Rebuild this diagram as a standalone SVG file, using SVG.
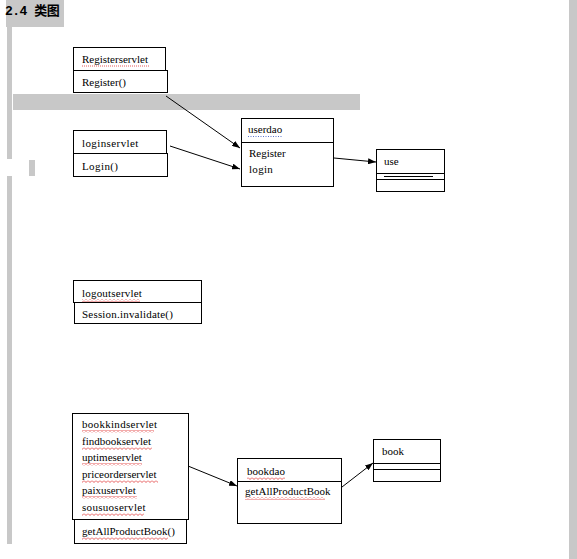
<svg xmlns="http://www.w3.org/2000/svg" width="577" height="559" viewBox="0 0 577 559">
<style>
.box{fill:#fff;stroke:#000;stroke-width:1}
.t{font-family:'Liberation Serif','Times New Roman',Times,serif;font-size:11px;fill:#000}
.h{font-family:'Liberation Mono','Noto Sans CJK SC',monospace;font-size:13px;font-weight:bold;fill:#000}
.bar{fill:#c8c8c8}
.conn{stroke:#000;stroke-width:1;fill:none;marker-end:url(#arr)}
.wave{fill:url(#wave)}
</style>
<defs>
<marker id="arr" markerWidth="8" markerHeight="6" refX="8" refY="3" orient="auto" markerUnits="userSpaceOnUse">
<path d="M0,0 L8,3 L0,6 Z" fill="#000"/>
</marker>
<pattern id="wave" width="4" height="3" patternUnits="userSpaceOnUse">
<path d="M0,0.5 L2,2.5 L4,0.5" stroke="#e03030" stroke-width="0.8" fill="none"/>
</pattern>
</defs>
<rect width="577" height="559" fill="#fff"/>
<g id="page">
<rect class="bar" x="6" y="0" width="58" height="27"/>
<text class="h" x="5" y="15" letter-spacing="-0.5">2.4 类图</text>
<rect class="bar" x="7" y="27" width="5" height="132"/>
<rect class="bar" x="7" y="176" width="5" height="368"/>
<rect class="bar" x="29" y="160" width="6" height="16"/>
<rect class="bar" x="13" y="94" width="347" height="16"/>
<rect class="bar" x="569" y="0" width="8" height="559"/>
</g>
<g id="registerservlet">
<rect class="box" x="73.5" y="47.5" width="92" height="23"/>
<rect class="box" x="73.5" y="70.5" width="94" height="22"/>
<text class="t" x="82" y="63">Registerservlet</text>
<line x1="82" y1="66" x2="150" y2="66" stroke="#e03030" stroke-width="0.8" stroke-dasharray="1,1"/>
<text class="t" x="82" y="86">Register()</text>
</g>
<g id="loginservlet">
<rect class="box" x="73.5" y="130.5" width="93" height="23"/>
<rect class="box" x="73.5" y="153.5" width="94" height="23"/>
<text class="t" x="82" y="147" letter-spacing="0.4">loginservlet</text>
<text class="t" x="82" y="170" letter-spacing="0.4">Login()</text>
</g>
<g id="userdao">
<rect class="box" x="241.5" y="118.5" width="92" height="24"/>
<rect class="box" x="241.5" y="142.5" width="92" height="44"/>
<text class="t" x="248" y="133">userdao</text>
<line x1="248" y1="136.5" x2="282" y2="136.5" stroke="#3050c0" stroke-width="0.8" stroke-dasharray="1,1.5"/>
<text class="t" x="249" y="157">Register</text>
<text class="t" x="249" y="173" letter-spacing="0.3">login</text>
</g>
<g id="use">
<rect class="box" x="376.5" y="149.5" width="68" height="42"/>
<line x1="376.5" y1="173.5" x2="444.5" y2="173.5" stroke="#000"/>
<line x1="376.5" y1="179.5" x2="444.5" y2="179.5" stroke="#000"/>
<line x1="384" y1="176.5" x2="433" y2="176.5" stroke="#000"/>
<text class="t" x="384" y="165">use</text>
</g>
<g id="logoutservlet">
<rect class="box" x="73.5" y="280.5" width="128" height="22"/>
<rect class="box" x="74.5" y="302.5" width="127" height="21"/>
<text class="t" x="82" y="297" letter-spacing="0.2">logoutservlet</text>
<rect class="wave" x="82" y="299" width="58" height="3"/>
<text class="t" x="82" y="318" letter-spacing="0.2">Session.invalidate()</text>
</g>
<g id="bookservlets">
<rect class="box" x="72.5" y="413.5" width="116" height="106"/>
<rect class="box" x="74.5" y="519.5" width="112" height="24"/>
<text class="t" x="82" y="428" letter-spacing="0.3">bookkindservlet</text>
<rect class="wave" x="82" y="430" width="72" height="3"/>
<text class="t" x="82" y="445">findbookservlet</text>
<rect class="wave" x="82" y="447" width="70" height="3"/>
<text class="t" x="82" y="461">uptimeservlet</text>
<rect class="wave" x="82" y="463" width="60" height="3"/>
<text class="t" x="82" y="478">priceorderservlet</text>
<rect class="wave" x="82" y="480" width="76" height="3"/>
<text class="t" x="82" y="494">paixuservlet</text>
<rect class="wave" x="82" y="496" width="55" height="3"/>
<text class="t" x="82" y="511" letter-spacing="0.3">sousuoservlet</text>
<rect class="wave" x="82" y="513" width="62" height="3"/>
<text class="t" x="82" y="535">getAllProductBook()</text>
<rect class="wave" x="82" y="537" width="86" height="3"/>
</g>
<g id="bookdao">
<rect class="box" x="237.5" y="458.5" width="104" height="23"/>
<rect class="box" x="237.5" y="481.5" width="104" height="42"/>
<text class="t" x="247" y="475">bookdao</text>
<rect class="wave" x="247" y="477" width="38" height="3"/>
<text class="t" x="245" y="495">getAllProductBook</text>
<rect class="wave" x="245" y="497" width="80" height="3"/>
</g>
<g id="book">
<rect class="box" x="373.5" y="439.5" width="67" height="42"/>
<line x1="373.5" y1="463.5" x2="440.5" y2="463.5" stroke="#000"/>
<line x1="373.5" y1="469.5" x2="440.5" y2="469.5" stroke="#000"/>
<text class="t" x="382" y="455">book</text>
</g>
<g id="connectors">
<line class="conn" x1="166" y1="96" x2="240" y2="148"/>
<line class="conn" x1="170" y1="146" x2="240" y2="169"/>
<line class="conn" x1="334" y1="158" x2="376" y2="162"/>
<line class="conn" x1="188" y1="466" x2="237" y2="486"/>
<line class="conn" x1="342" y1="487" x2="373" y2="463"/>
</g>
</svg>
